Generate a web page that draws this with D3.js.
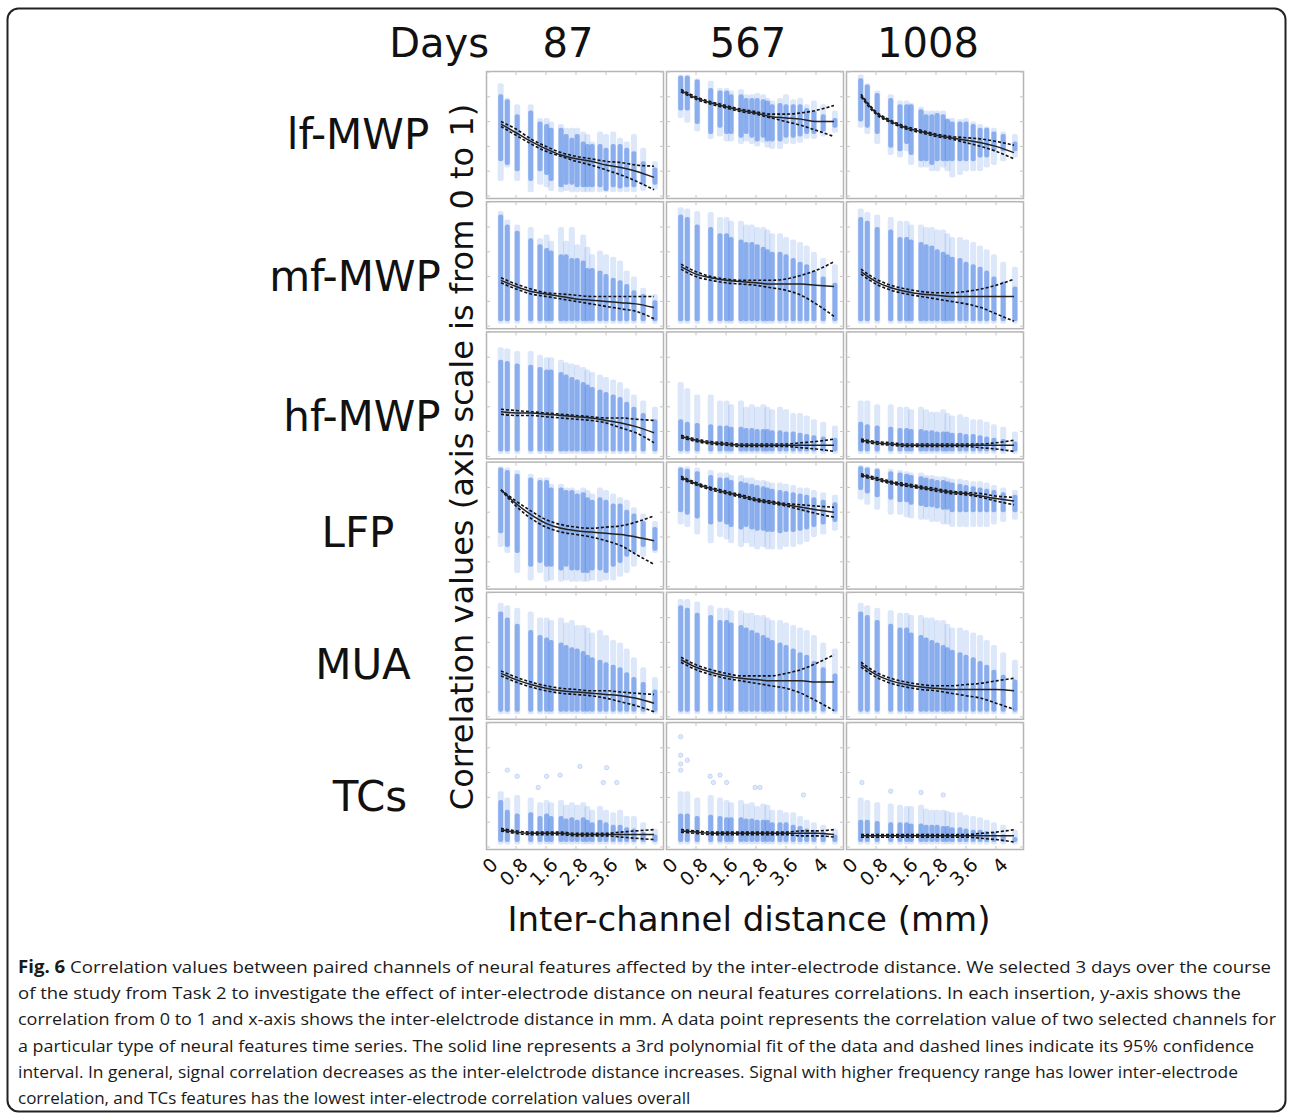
<!DOCTYPE html>
<html>
<head>
<meta charset="utf-8">
<script src="https://cdn.jsdelivr.net/npm/d3@7"></script>
<style>
body { margin: 0; background: #fff; }
</style>
</head>
<body>
<div id="chart"></div>
<script>
// ---- labels ----
var days = ["87", "567", "1008"];
var features = ["lf-MWP", "mf-MWP", "hf-MWP", "LFP", "MUA", "TCs"];
var xTicks = [0, 1, 2, 3, 4, 5];
var xTickLabels = ["0", "0.8", "1.6", "2.8", "3.6", "4"];
var yTicks = [0, 0.2, 0.4, 0.6, 0.8, 1];

// x position (axis units) of each vertical stripe of points, and of the fit samples
var stripeX = [0.49, 0.71, 1.04, 1.49, 1.8, 2.02, 2.17, 2.5, 2.67, 2.86, 3.04, 3.24, 3.38, 3.54, 3.8, 4.0, 4.24, 4.47, 4.69, 4.93, 5.24, 5.63];
var fitX = [0.5, 1, 1.5, 2, 2.5, 3, 3.5, 4, 4.5, 5, 5.6];

// ---- point clouds: per stripe, sparse top / dense top / dense bottom / sparse bottom (days 87, 567, 1008) ----
var lf_hi = [
  [.91,.79,.74,.74,.63,.63,.60,.58,.55,.55,.55,.52,.50,.44,.52,.50,.52,.47,.44,.50,.39,.28],
  [.98,.98,.95,.93,.87,.87,.85,.86,.82,.82,.83,.82,.79,.77,.79,.82,.78,.79,.74,.77,.74,.69],
  [.98,.91,.85,.82,.77,.77,.75,.72,.69,.69,.69,.69,.63,.63,.62,.63,.60,.58,.56,.55,.52,.50]];
var lf_core_hi = [
  [.82,.78,.66,.69,.60,.58,.55,.55,.50,.47,.50,.44,.42,.42,.42,.39,.42,.42,.39,.36,.28,.23],
  [.97,.97,.94,.87,.85,.85,.82,.82,.79,.79,.79,.78,.77,.74,.75,.74,.74,.74,.71,.69,.66,.63],
  [.95,.90,.83,.79,.74,.74,.74,.70,.66,.66,.67,.66,.62,.60,.60,.60,.58,.55,.55,.52,.50,.44]];
var lf_core_lo = [
  [.28,.25,.20,.12,.20,.17,.12,.07,.09,.09,.07,.07,.07,.07,.07,.04,.07,.06,.07,.07,.09,.09],
  [.69,.69,.58,.50,.55,.50,.50,.47,.50,.47,.44,.47,.44,.44,.44,.47,.47,.48,.50,.50,.52,.55],
  [.60,.55,.50,.39,.36,.42,.33,.28,.28,.25,.28,.28,.28,.28,.28,.28,.28,.31,.31,.36,.36,.36]];
var lf_lo = [
  [.12,.23,.12,.03,.09,.07,.04,.03,.04,.03,.03,.03,.03,.03,.03,.03,.03,.03,.03,.03,.04,.05],
  [.63,.59,.52,.46,.48,.44,.44,.42,.44,.42,.40,.43,.39,.38,.38,.42,.42,.43,.46,.46,.48,.51],
  [.55,.50,.42,.33,.31,.36,.25,.23,.23,.20,.20,.23,.20,.15,.17,.20,.20,.20,.23,.25,.28,.31]];

var mf_hi = [
  [.93,.86,.82,.80,.71,.74,.69,.80,.69,.80,.66,.74,.64,.58,.61,.58,.56,.53,.45,.40,.31,.26],
  [.96,.95,.93,.92,.88,.88,.85,.85,.82,.82,.80,.80,.78,.75,.75,.72,.70,.68,.65,.60,.55,.50],
  [.95,.92,.90,.88,.85,.85,.82,.82,.80,.80,.78,.78,.75,.72,.72,.70,.68,.65,.62,.58,.52,.48]];
var mf_core_hi = [
  [.90,.82,.77,.71,.66,.63,.61,.58,.58,.55,.55,.53,.47,.47,.45,.42,.39,.37,.34,.29,.26,.21],
  [.90,.88,.82,.80,.75,.75,.72,.70,.68,.68,.66,.64,.62,.60,.60,.58,.55,.52,.50,.45,.40,.35],
  [.88,.85,.80,.78,.72,.72,.70,.68,.66,.65,.62,.60,.58,.56,.55,.52,.50,.48,.45,.40,.36,.32]];
var mf_core_lo = [
  [.04,.04,.04,.04,.04,.04,.04,.04,.04,.04,.04,.04,.04,.04,.04,.04,.04,.04,.04,.04,.04,.04],
  [.04,.04,.04,.04,.04,.04,.04,.04,.04,.04,.04,.04,.04,.04,.04,.04,.04,.04,.04,.04,.04,.04],
  [.04,.04,.04,.04,.04,.04,.04,.04,.04,.04,.04,.04,.04,.04,.04,.04,.04,.04,.04,.04,.04,.04]];
var mf_lo = [
  [.02,.02,.02,.02,.02,.02,.02,.02,.02,.02,.02,.02,.02,.02,.02,.02,.02,.02,.02,.02,.02,.02],
  [.02,.02,.02,.02,.02,.02,.02,.02,.02,.02,.02,.02,.02,.02,.02,.02,.02,.02,.02,.02,.02,.02],
  [.02,.02,.02,.02,.02,.02,.02,.02,.02,.02,.02,.02,.02,.02,.02,.02,.02,.02,.02,.02,.02,.02]];

var hf_hi = [
  [.88,.87,.85,.85,.82,.80,.80,.78,.76,.75,.74,.72,.70,.68,.66,.64,.62,.60,.55,.50,.45,.40],
  [.60,.55,.50,.50,.45,.45,.42,.45,.40,.42,.40,.42,.40,.38,.40,.38,.35,.35,.33,.30,.28,.25],
  [.45,.45,.42,.42,.40,.40,.38,.40,.38,.36,.36,.38,.35,.33,.34,.32,.30,.30,.28,.26,.24,.20]];
var hf_core_hi = [
  [.78,.77,.75,.74,.72,.70,.70,.68,.66,.64,.62,.60,.58,.56,.54,.52,.50,.48,.44,.40,.35,.30],
  [.30,.28,.27,.26,.25,.25,.24,.24,.23,.23,.22,.22,.22,.21,.21,.20,.20,.19,.18,.17,.16,.15],
  [.28,.26,.25,.24,.23,.23,.22,.22,.21,.21,.20,.20,.20,.19,.19,.18,.18,.17,.16,.15,.14,.12]];
var hf_core_lo = mf_core_lo;
var hf_lo = mf_lo;

var lfp_hi = [
  [.97,.96,.94,.91,.88,.88,.83,.83,.80,.80,.78,.80,.78,.75,.80,.78,.75,.72,.70,.64,.59,.53],
  [.97,.97,.96,.94,.92,.92,.90,.90,.88,.88,.86,.86,.85,.84,.84,.83,.82,.80,.80,.78,.76,.74],
  [.98,.97,.96,.95,.94,.93,.92,.92,.90,.90,.89,.89,.88,.87,.87,.86,.85,.85,.84,.82,.80,.78]];
var lfp_core_hi = [
  [.96,.94,.91,.88,.86,.86,.80,.80,.78,.78,.75,.76,.72,.70,.72,.70,.67,.67,.62,.59,.53,.48],
  [.96,.95,.93,.90,.88,.88,.86,.85,.84,.83,.82,.81,.80,.79,.78,.77,.76,.75,.74,.72,.70,.68],
  [.97,.96,.95,.93,.92,.91,.90,.89,.88,.87,.86,.86,.85,.84,.83,.82,.81,.80,.79,.78,.76,.74]];
var lfp_core_lo = [
  [.43,.32,.27,.16,.19,.16,.16,.13,.16,.13,.13,.11,.11,.13,.13,.11,.16,.19,.24,.27,.32,.29],
  [.60,.58,.55,.50,.52,.50,.48,.46,.48,.46,.45,.45,.44,.44,.43,.44,.44,.45,.46,.48,.50,.52],
  [.78,.75,.72,.70,.68,.68,.66,.65,.64,.64,.63,.62,.62,.60,.60,.60,.60,.60,.60,.60,.60,.60]];
var lfp_lo = [
  [.32,.27,.11,.05,.11,.04,.05,.04,.05,.04,.04,.04,.04,.05,.04,.05,.05,.08,.11,.16,.24,.27],
  [.50,.48,.42,.35,.40,.38,.35,.32,.35,.32,.30,.32,.30,.30,.30,.32,.32,.34,.36,.40,.42,.45],
  [.70,.66,.62,.58,.58,.56,.55,.54,.54,.52,.52,.50,.50,.48,.48,.48,.48,.48,.48,.50,.52,.54]];

var mua_hi = [
  [.92,.90,.88,.85,.80,.80,.78,.80,.76,.78,.74,.74,.72,.68,.70,.66,.62,.60,.55,.48,.40,.32],
  [.95,.95,.93,.90,.88,.88,.86,.86,.84,.84,.82,.82,.80,.78,.78,.76,.74,.72,.70,.66,.60,.55],
  [.92,.90,.88,.86,.84,.84,.82,.82,.80,.80,.78,.78,.75,.72,.72,.70,.68,.66,.62,.58,.52,.46]];
var mua_core_hi = [
  [.85,.80,.75,.70,.66,.64,.62,.60,.58,.56,.55,.53,.50,.48,.46,.44,.42,.40,.36,.32,.28,.22],
  [.90,.88,.84,.82,.78,.78,.76,.74,.72,.70,.68,.66,.64,.62,.60,.58,.55,.52,.50,.45,.40,.35],
  [.85,.82,.78,.75,.72,.72,.68,.66,.64,.62,.60,.58,.56,.54,.52,.50,.48,.45,.42,.38,.34,.30]];
var mua_core_lo = mf_core_lo;
var mua_lo = mf_lo;

var tc_hi = [
  [.45,.40,.42,.40,.36,.38,.36,.38,.34,.36,.34,.36,.33,.30,.33,.30,.28,.30,.25,.25,.20,.15],
  [.45,.45,.40,.42,.40,.38,.36,.38,.35,.36,.33,.35,.34,.30,.30,.28,.28,.25,.22,.20,.18,.15],
  [.40,.38,.36,.35,.34,.33,.33,.34,.31,.30,.30,.30,.29,.28,.28,.26,.25,.24,.22,.20,.18,.14]];
var tc_core_hi = [
  [.38,.30,.27,.28,.25,.27,.25,.25,.23,.24,.22,.24,.22,.20,.22,.20,.18,.18,.16,.15,.12,.10],
  [.27,.27,.25,.26,.25,.24,.24,.24,.23,.23,.22,.22,.22,.20,.20,.20,.18,.17,.15,.14,.12,.10],
  [.22,.22,.21,.20,.20,.20,.19,.19,.18,.18,.18,.17,.17,.16,.16,.15,.14,.14,.13,.12,.10,.08]];
var tc_core_lo = mf_core_lo;
var tc_lo = mf_lo;

// isolated high points in the TCs panels, [x, correlation]
var tc_outliers = [
  [[0.71,.62],[1.04,.57],[1.74,.48],[2.02,.57],[2.47,.58],[3.13,.65],[3.91,.52],[4.02,.64],[4.36,.52]],
  [[0.49,.89],[0.49,.74],[0.49,.67],[0.49,.62],[0.71,.70],[1.47,.57],[1.58,.52],[1.8,.58],[2.02,.52],[2.97,.48],[3.13,.48],[4.58,.42]],
  [[0.53,.52],[1.49,.45],[2.5,.44],[3.24,.42]]];

// ---- 3rd order fit and its 95% CI, sampled at fitX ----
var lf_fit = [
  [.58,.51,.44,.38,.33,.30,.28,.25,.23,.20,.15],
  [.85,.79,.75,.72,.69,.67,.64,.63,.62,.60,.60],
  [.81,.67,.60,.55,.52,.49,.47,.45,.43,.40,.35]];
var lf_ci_hi = [
  [.60,.54,.46,.40,.35,.32,.30,.28,.27,.25,.24],
  [.86,.80,.76,.73,.70,.68,.66,.66,.67,.69,.73],
  [.82,.68,.61,.56,.53,.50,.48,.47,.46,.44,.41]];
var lf_ci_lo = [
  [.56,.49,.42,.36,.32,.28,.25,.21,.17,.12,.05],
  [.84,.78,.74,.71,.68,.66,.63,.60,.57,.53,.48],
  [.80,.66,.59,.54,.51,.48,.46,.43,.40,.36,.30]];

var mf_fit = [
  [.37,.32,.28,.26,.24,.22,.21,.20,.19,.18,.15],
  [.48,.42,.39,.37,.36,.35,.34,.34,.34,.33,.32],
  [.44,.36,.31,.28,.26,.25,.24,.24,.24,.24,.24]];
var mf_ci_hi = [
  [.39,.34,.30,.27,.26,.25,.24,.24,.24,.24,.24],
  [.50,.44,.40,.38,.37,.37,.37,.38,.41,.45,.52],
  [.46,.38,.33,.30,.28,.27,.27,.28,.30,.33,.38]];
var mf_ci_lo = [
  [.35,.30,.26,.24,.22,.20,.18,.16,.14,.12,.06],
  [.46,.40,.37,.35,.34,.33,.31,.29,.25,.18,.08],
  [.42,.34,.29,.26,.24,.22,.20,.18,.15,.10,.04]];

var hf_fit = [
  [.36,.35,.35,.34,.33,.32,.31,.29,.27,.24,.19],
  [.16,.13,.11,.10,.09,.09,.09,.09,.09,.09,.09],
  [.13,.11,.10,.09,.09,.09,.09,.09,.09,.09,.09]];
var hf_ci_hi = [
  [.38,.37,.36,.35,.34,.33,.32,.31,.31,.30,.29],
  [.17,.14,.12,.11,.10,.10,.10,.10,.11,.12,.14],
  [.14,.12,.11,.10,.10,.10,.10,.10,.10,.11,.13]];
var hf_ci_lo = [
  [.34,.33,.33,.32,.31,.30,.29,.27,.23,.19,.11],
  [.15,.12,.10,.09,.08,.08,.08,.08,.07,.06,.04],
  [.12,.10,.09,.08,.08,.08,.08,.08,.07,.06,.04]];

var lfp_fit = [
  [.78,.67,.58,.51,.47,.45,.44,.43,.42,.40,.37],
  [.88,.83,.79,.76,.73,.70,.68,.66,.64,.62,.60],
  [.90,.87,.84,.82,.80,.78,.76,.75,.73,.71,.69]];
var lfp_ci_hi = [
  [.78,.69,.61,.54,.50,.48,.47,.48,.49,.52,.57],
  [.89,.84,.80,.77,.74,.71,.69,.67,.66,.65,.64],
  [.91,.88,.85,.83,.81,.79,.77,.76,.75,.73,.72]];
var lfp_ci_lo = [
  [.78,.65,.55,.48,.44,.42,.40,.37,.33,.26,.18],
  [.87,.82,.78,.75,.72,.69,.67,.65,.62,.59,.56],
  [.89,.86,.83,.81,.79,.77,.75,.74,.72,.69,.66]];

var mua_fit = [
  [.35,.30,.26,.23,.21,.20,.19,.18,.17,.15,.11],
  [.46,.40,.36,.33,.31,.30,.29,.29,.29,.28,.28],
  [.42,.34,.29,.26,.24,.23,.22,.22,.22,.22,.21]];
var mua_ci_hi = [
  [.37,.32,.28,.25,.23,.22,.21,.21,.20,.19,.18],
  [.48,.42,.38,.35,.33,.33,.33,.35,.38,.43,.50],
  [.44,.36,.31,.28,.26,.25,.25,.26,.27,.29,.31]];
var mua_ci_lo = [
  [.33,.28,.24,.21,.19,.18,.17,.15,.12,.09,.04],
  [.44,.38,.34,.31,.29,.27,.25,.23,.19,.13,.05],
  [.40,.32,.27,.24,.22,.21,.19,.17,.15,.11,.06]];

var tc_fit = [
  [.14,.12,.11,.11,.11,.10,.10,.10,.10,.10,.10],
  [.13,.12,.11,.11,.11,.11,.11,.11,.11,.11,.10],
  [.09,.09,.09,.09,.09,.09,.09,.09,.09,.09,.09]];
var tc_ci_hi = [
  [.15,.13,.12,.12,.12,.11,.11,.11,.12,.13,.14],
  [.14,.13,.12,.12,.12,.12,.12,.12,.13,.13,.14],
  [.10,.10,.10,.10,.10,.10,.10,.10,.11,.12,.14]];
var tc_ci_lo = [
  [.13,.11,.10,.10,.10,.09,.09,.09,.08,.07,.06],
  [.12,.11,.10,.10,.10,.10,.10,.10,.09,.09,.08],
  [.08,.08,.08,.08,.08,.08,.08,.08,.07,.06,.04]];

var captionLines = [
  "Correlation values between paired channels of neural features affected by the inter-electrode distance. We selected 3 days over the course",
  "of the study from Task 2 to investigate the effect of inter-electrode distance on neural features correlations. In each insertion, y-axis shows the",
  "correlation from 0 to 1 and x-axis shows the inter-elelctrode distance in mm. A data point represents the correlation value of two selected channels for",
  "a particular type of neural features time series. The solid line represents a 3rd polynomial fit of the data and dashed lines indicate its 95% confidence",
  "interval. In general, signal correlation decreases as the inter-elelctrode distance increases. Signal with higher frequency range has lower inter-electrode",
  "correlation, and TCs features has the lowest inter-electrode correlation values overall"];

// rows of the grid, in order
var rowsData = [
  {hi: lf_hi, cHi: lf_core_hi, cLo: lf_core_lo, lo: lf_lo, fit: lf_fit, ciHi: lf_ci_hi, ciLo: lf_ci_lo, out: null},
  {hi: mf_hi, cHi: mf_core_hi, cLo: mf_core_lo, lo: mf_lo, fit: mf_fit, ciHi: mf_ci_hi, ciLo: mf_ci_lo, out: null},
  {hi: hf_hi, cHi: hf_core_hi, cLo: hf_core_lo, lo: hf_lo, fit: hf_fit, ciHi: hf_ci_hi, ciLo: hf_ci_lo, out: null},
  {hi: lfp_hi, cHi: lfp_core_hi, cLo: lfp_core_lo, lo: lfp_lo, fit: lfp_fit, ciHi: lfp_ci_hi, ciLo: lfp_ci_lo, out: null},
  {hi: mua_hi, cHi: mua_core_hi, cLo: mua_core_lo, lo: mua_lo, fit: mua_fit, ciHi: mua_ci_hi, ciLo: mua_ci_lo, out: null},
  {hi: tc_hi, cHi: tc_core_hi, cLo: tc_core_lo, lo: tc_lo, fit: tc_fit, ciHi: tc_ci_hi, ciLo: tc_ci_lo, out: tc_outliers}];

// ---- layout ----
var W = 1289, H = 1117;
var gridLeft = 486, gridTop = 71, colStep = 180, rowStep = 130.2;
var panelW = 178, panelH = 128;
var rowLabelX = [358, 355, 362, 358, 363, 370];
var rowLabelY = [149, 291, 431, 547, 679, 811];
var capEnds = [1271, 1241, 1276, 1254, 1238, null];
var font = "'DejaVu Sans', Verdana, sans-serif";
var blue = "#6392e8";

var svg = d3.select("#chart").append("svg")
    .attr("width", W).attr("height", H)
    .style("display", "block");

svg.append("rect")
    .attr("x", 7.5).attr("y", 8.5)
    .attr("width", 1278).attr("height", 1103)
    .attr("rx", 11).attr("ry", 11)
    .attr("fill", "none").attr("stroke", "#222").attr("stroke-width", 2);

var x = d3.scaleLinear().domain([0, 6]).range([0, 180]);
var y = d3.scaleLinear().domain([0, 1]).range([panelH - 3, panelH - 127]);

var line = d3.line()
    .x(function(d) { return x(d[0]); })
    .y(function(d) { return y(d[1]); })
    .curve(d3.curveMonotoneX);

var defs = svg.append("defs");
defs.append("clipPath").attr("id", "panelClip")
    .append("rect").attr("x", 0).attr("y", 0).attr("width", panelW).attr("height", panelH);

rowsData.forEach(function(row, r) {
    days.forEach(function(day, c) {
        var g = svg.append("g")
            .attr("transform", "translate(" + (gridLeft + c * colStep) + "," + (gridTop + r * rowStep) + ")");
        var inner = g.append("g").attr("clip-path", "url(#panelClip)");

        // point stripes: sparse part then dense part
        inner.selectAll("rect.sparse")
            .data(stripeX)
            .enter().append("rect")
            .attr("class", "sparse")
            .attr("x", function(d) { return x(d) - 3; })
            .attr("width", 6).attr("rx", 2)
            .attr("y", function(d, i) { return y(row.hi[c][i]); })
            .attr("height", function(d, i) { return y(row.lo[c][i]) - y(row.hi[c][i]); })
            .attr("fill", blue).attr("fill-opacity", 0.22);
        inner.selectAll("rect.core")
            .data(stripeX)
            .enter().append("rect")
            .attr("class", "core")
            .attr("x", function(d) { return x(d) - 2.5; })
            .attr("width", 5).attr("rx", 2)
            .attr("y", function(d, i) { return y(row.cHi[c][i]); })
            .attr("height", function(d, i) { return y(row.cLo[c][i]) - y(row.cHi[c][i]); })
            .attr("fill", blue).attr("fill-opacity", 0.68);
        if (row.out) {
            inner.selectAll("circle.out")
                .data(row.out[c])
                .enter().append("circle")
                .attr("class", "out")
                .attr("cx", function(d) { return x(d[0]); })
                .attr("cy", function(d) { return y(d[1]); })
                .attr("r", 2.2)
                .attr("fill", blue).attr("fill-opacity", 0.2)
                .attr("stroke", blue).attr("stroke-opacity", 0.35).attr("stroke-width", 0.8);
        }

        // fit and CI
        [row.ciHi[c], row.ciLo[c]].forEach(function(vals) {
            inner.append("path")
                .datum(fitX.map(function(v, i) { return [v, vals[i]]; }))
                .attr("d", line)
                .attr("fill", "none").attr("stroke", "#111")
                .attr("stroke-width", 1.6).attr("stroke-dasharray", "3,2");
        });
        inner.append("path")
            .datum(fitX.map(function(v, i) { return [v, row.fit[c][i]]; }))
            .attr("d", line)
            .attr("fill", "none").attr("stroke", "#222").attr("stroke-width", 1.5);

        // frame and inward ticks
        g.append("rect")
            .attr("x", 0.5).attr("y", 0.5)
            .attr("width", panelW - 1).attr("height", panelH - 1)
            .attr("fill", "none").attr("stroke", "#b5b5b5").attr("stroke-width", 1.5);
        var tk = g.append("g").attr("stroke", "#c4c4c4").attr("stroke-width", 1);
        yTicks.forEach(function(t) {
            tk.append("line").attr("x1", 0).attr("x2", 4).attr("y1", y(t)).attr("y2", y(t));
            tk.append("line").attr("x1", panelW - 4).attr("x2", panelW).attr("y1", y(t)).attr("y2", y(t));
        });
        xTicks.slice(1).forEach(function(t) {
            tk.append("line").attr("x1", x(t)).attr("x2", x(t)).attr("y1", 0).attr("y2", 4);
            tk.append("line").attr("x1", x(t)).attr("x2", x(t)).attr("y1", panelH - 4).attr("y2", panelH);
        });

        // x tick labels under the bottom row
        if (r === rowsData.length - 1) {
            xTicks.forEach(function(t, i) {
                var ax = x(t) + 13, ay = panelH + 16;
                g.append("text")
                    .attr("transform", "translate(" + ax + "," + ay + ") rotate(-45)")
                    .attr("text-anchor", "end")
                    .attr("font-family", font).attr("font-size", 19)
                    .attr("fill", "#111")
                    .text(xTickLabels[i]);
            });
        }
    });
});

// column headers
svg.append("text")
    .attr("x", 489).attr("y", 57)
    .attr("text-anchor", "end")
    .attr("font-family", font).attr("font-size", 40).attr("fill", "#111")
    .text("Days");
days.forEach(function(d, c) {
    svg.append("text")
        .attr("x", gridLeft + c * colStep + panelW / 2 - 7).attr("y", 57)
        .attr("text-anchor", "middle")
        .attr("font-family", font).attr("font-size", 40).attr("fill", "#111")
        .text(d);
});

// row labels
features.forEach(function(f, r) {
    svg.append("text")
        .attr("x", rowLabelX[r]).attr("y", rowLabelY[r])
        .attr("text-anchor", "middle")
        .attr("font-family", font).attr("font-size", 42).attr("fill", "#111")
        .text(f);
});

// axis titles
svg.append("text")
    .attr("transform", "translate(473,457) rotate(-90)")
    .attr("text-anchor", "middle")
    .attr("font-family", font).attr("font-size", 32).attr("fill", "#111")
    .text("Correlation values (axis scale is from 0 to 1)");
svg.append("text")
    .attr("x", 749).attr("y", 931)
    .attr("text-anchor", "middle")
    .attr("font-family", font).attr("font-size", 34).attr("fill", "#111")
    .text("Inter-channel distance (mm)");

// caption
captionLines.forEach(function(t, i) {
    var txt = svg.append("text")
        .attr("x", 18).attr("y", 973 + i * 26.2)
        .attr("font-family", "'Open Sans', 'Noto Sans', sans-serif")
        .attr("font-size", 17).attr("fill", "#1a1a1a");
    if (capEnds[i]) {
        txt.attr("textLength", capEnds[i] - 18).attr("lengthAdjust", "spacingAndGlyphs");
    }
    if (i === 0) {
        txt.append("tspan").attr("font-weight", "bold").text("Fig. 6 ");
    }
    txt.append("tspan").text(t);
});
</script>
</body>
</html>
